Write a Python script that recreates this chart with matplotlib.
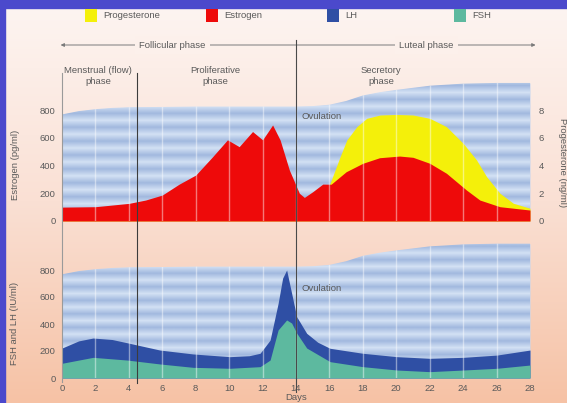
# -*- coding: utf-8 -*-
import numpy as np
import matplotlib
matplotlib.use('Agg')
import matplotlib.pyplot as plt
from matplotlib import patches, transforms
from matplotlib.colors import LinearSegmentedColormap

plt.rcParams['font.family'] = ['Liberation Sans', 'DejaVu Sans']

# Data
endo_days = [0, 1, 2, 3, 4, 6, 8, 10, 12, 14, 15, 16, 17, 18, 19, 20, 21, 22, 24, 26, 28]
endo_thick = [768, 792, 806, 815, 820, 822, 825, 825, 825, 825, 828, 838, 865, 905, 928, 945, 960, 975, 990, 995, 995]

est_days = [0, 2, 4, 5, 6, 7, 8, 9, 9.9, 10.6, 11.4, 12, 12.6, 13.05, 13.6, 14.2, 14.5, 15, 15.6,
            16.1, 17, 18, 19, 20.2, 21, 22, 23, 24.2, 25, 26.2, 28]
est_vals = [100, 103, 127, 151, 187, 265, 331, 462, 585, 536, 645, 585, 692, 584, 368, 200, 170, 211, 266,
            265, 355, 416, 456, 468, 459, 416, 344, 223, 151, 103, 79]

prog_days = [0, 14, 15, 15.6, 16.04, 16.34, 16.64, 17.04, 17.64, 18.23, 19.03, 20, 21, 22, 23, 24,
             24.8, 25.4, 26.2, 27, 28]
prog_vals = [0.3, 0.4, 1.0, 2.0, 2.72, 3.68, 4.64, 5.84, 6.8, 7.4, 7.64, 7.68, 7.64, 7.4, 6.8, 5.6,
             4.4, 3.2, 2.0, 1.28, 0.92]

lh_days = [0, 1, 1.86, 3, 3.9, 5.86, 7.84, 10.05, 11.2, 11.85, 12.45, 12.93, 13.2, 13.44, 13.74, 14.04,
           14.64, 15.3, 16.04, 18, 20.05, 22, 24, 26.03, 28]
lh_vals = [222, 275, 296, 285, 261, 207, 178, 158, 165, 183, 281, 553, 740, 800, 627, 454,
           331, 265, 220, 183, 158, 146, 153, 170, 207]

fsh_days = [0, 1.86, 3.9, 5.86, 7.84, 10.05, 11.85, 12.45, 12.93, 13.44, 13.74, 14.04, 14.64, 16.04,
            18, 20.05, 22, 24, 26.03, 28]
fsh_vals = [109, 153, 133, 104, 79, 72, 84, 133, 356, 430, 407, 333, 222, 121,
            84, 59, 47, 59, 72, 96]

day_ticks = list(range(0, 29, 2))
left_ticks = [0, 200, 400, 600, 800]
right_ticks = [0, 2, 4, 6, 8]

legend_names = ['Progesterone', 'Estrogen', 'LH', 'FSH']
colors = {'Progesterone': '#f4f00a', 'Estrogen': '#ee0a0a', 'LH': '#2f4fa4', 'FSH': '#5db99f'}

W, H = 567, 403
TXT = '#5a5a5a'
FS = 6.8


def px_box(left, top, right, bottom):
    return [left / W, 1 - bottom / H, (right - left) / W, (bottom - top) / H]


fig = plt.figure(figsize=(W / 100, H / 100), dpi=100)

# background gradient + blue frame
bg = fig.add_axes([0, 0, 1, 1], zorder=-10)
bg_cmap = LinearSegmentedColormap.from_list('bg', ['#fdf5f2', '#fae0d4', '#f6c2a5'])
bg.imshow(np.linspace(0, 1, 256).reshape(-1, 1), cmap=bg_cmap, aspect='auto',
          extent=[0, 1, 0, 1], origin='upper')
bg.set_xlim(0, 1)
bg.set_ylim(0, 1)
bg.axis('off')
bg.add_patch(patches.Rectangle((0, 0), 5 / W, 1, color='#4b49cc', transform=bg.transAxes))
bg.add_patch(patches.Rectangle((0, 1 - 8 / H), 1, 8 / H, color='#4b49cc', transform=bg.transAxes))

stripe_cmap = LinearSegmentedColormap.from_list('stripe', ['#d3e1f4', '#a2b9df'])
stripe_rows = np.array([i % 2 for i in range(22)]).reshape(-1, 1)

ax1 = fig.add_axes(px_box(62, 221 - 1050 * 0.13875, 530, 221))
ax2 = fig.add_axes(px_box(62, 378 - 1050 * 0.135, 530, 378))

for ax in (ax1, ax2):
    ax.patch.set_visible(False)
    endo = ax.fill_between(endo_days, 0, endo_thick, color='#c5d6ef', lw=0, zorder=1)
    img = ax.imshow(stripe_rows, cmap=stripe_cmap, aspect='auto', interpolation='bilinear',
                    extent=[0, 28, 0, 1100], origin='lower', zorder=2)
    img.set_clip_path(endo.get_paths()[0], transform=ax.transData)

# top panel: progesterone behind estrogen (progesterone on 1/100 scale)
ax1.fill_between(prog_days, 0, np.array(prog_vals) * 100, color=colors['Progesterone'], lw=0, zorder=3)
ax1.fill_between(est_days, 0, est_vals, color=colors['Estrogen'], lw=0, zorder=4)

# bottom panel: LH behind FSH
ax2.fill_between(lh_days, 0, lh_vals, color=colors['LH'], lw=0, zorder=3)
ax2.fill_between(fsh_days, 0, fsh_vals, color=colors['FSH'], lw=0, zorder=4)

for ax in (ax1, ax2):
    clip = ax.collections[0]
    grid = ax.vlines(day_ticks[1:-1], 0, 1100, colors='white', lw=1.0, alpha=0.45, zorder=5)
    grid.set_clip_path(clip.get_paths()[0], transform=ax.transData)
    ax.set_xlim(0, 28)
    ax.set_ylim(0, 1050)
    for s in ax.spines.values():
        s.set_visible(False)
    ax.set_yticks(left_ticks)
    ax.tick_params(axis='y', length=0, pad=4.5, labelsize=FS, labelcolor=TXT)
    ax.text(14.3, 750 if ax is ax1 else 660, 'Ovulation', fontsize=FS, color=TXT, va='center', zorder=6)

ax1.set_xticks([])
ax2.set_xticks(day_ticks)
ax2.tick_params(axis='x', length=0, pad=4.5, labelsize=FS, labelcolor=TXT)

sec = ax1.secondary_yaxis('right', functions=(lambda v: v / 100, lambda v: v * 100))
sec.set_yticks(right_ticks)
sec.spines['right'].set_visible(False)
sec.tick_params(length=0, pad=6, labelsize=FS, labelcolor=TXT)

# phase boundaries spanning both panels
trans = transforms.blended_transform_factory(ax1.transData, fig.transFigure)
for day, top, bottom, col in [(0, 73, 382, '#9a9a9a'), (4.5, 73, 383, '#3c3c3c'), (14, 40, 392, '#4a4a4a')]:
    fig.add_artist(plt.Line2D([day, day], [1 - top / H, 1 - bottom / H], transform=trans,
                              color=col, lw=0.8, zorder=20))

# phase arrows and labels
arrow_y = 1 - 45 / H
fig.add_artist(patches.FancyArrowPatch((-0.25, arrow_y), (28.5, arrow_y), transform=trans,
                                       arrowstyle='<|-|>', mutation_scale=5, color='#7a7a7a', lw=0.7))
arrow_bg = bg_cmap(45 / H)
for day, label in [(6.6, 'Follicular phase'), (21.8, 'Luteal phase')]:
    fig.text(day, arrow_y, label, transform=trans, ha='center', va='center', fontsize=FS, color=TXT,
             bbox=dict(facecolor=arrow_bg, edgecolor='none', pad=3))
for day, label in [(2.15, 'Menstrual (flow)\nphase'), (9.16, 'Proliferative\nphase'), (19.1, 'Secretory\nphase')]:
    fig.text(day, 1 - 76 / H, label, transform=trans, ha='center', va='center', fontsize=FS,
             color=TXT, linespacing=1.25)

# legend
legend_x = [85, 206, 327, 454]
for x, name in zip(legend_x, legend_names):
    fig.add_artist(patches.Rectangle((x / W, 1 - 22 / H), 12 / W, 13 / H, transform=fig.transFigure,
                                     color=colors[name], lw=0))
    fig.text((x + 18) / W, 1 - 16 / H, name, fontsize=FS, color=TXT, va='center')

# axis titles
fig.text(15 / W, 1 - 165 / H, 'Estrogen (pg/ml)', rotation=90, ha='center', va='center', fontsize=FS, color=TXT)
fig.text(15 / W, 1 - 323 / H, 'FSH and LH (IU/ml)', rotation=90, ha='center', va='center', fontsize=FS, color=TXT)
fig.text(562 / W, 1 - 163 / H, 'Progesterone (ng/ml)', rotation=270, ha='center', va='center', fontsize=FS, color=TXT)
fig.text(14, 1 - 402 / H, 'Days', transform=trans, ha='center', va='bottom', fontsize=FS, color=TXT)

fig.savefig('out.png', dpi=100)
plt.close('all')
